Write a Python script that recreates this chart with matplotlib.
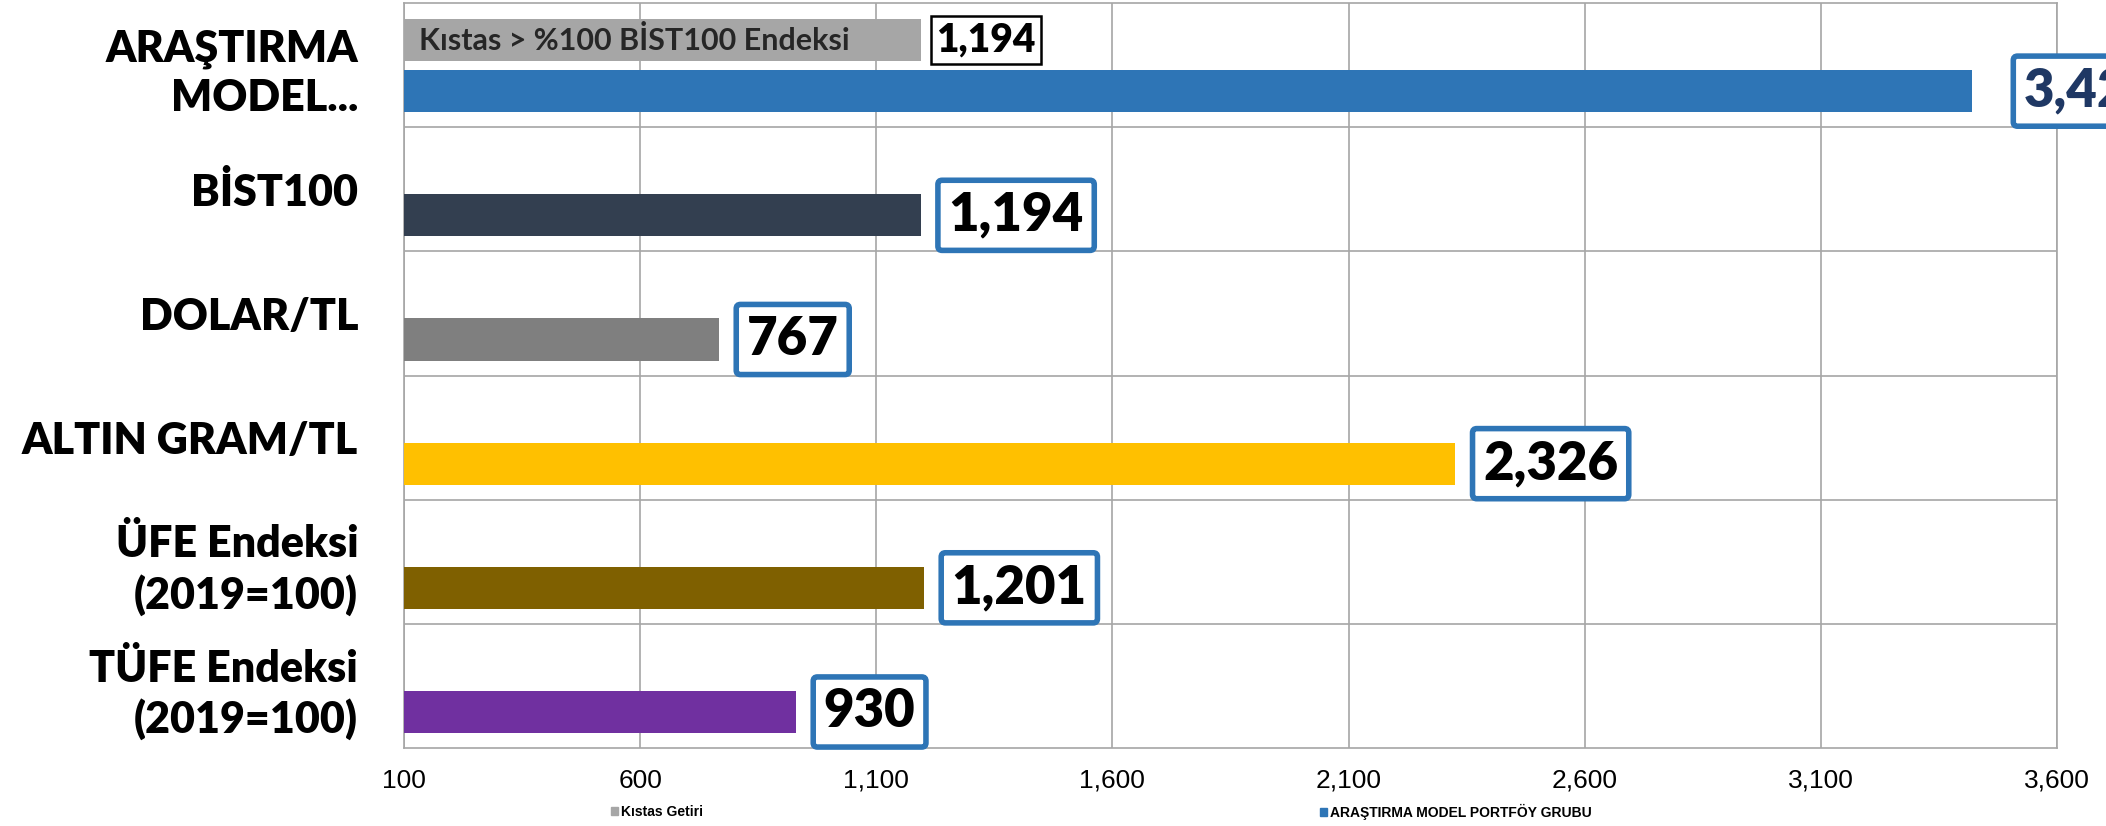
import matplotlib.pyplot as plt
from matplotlib.patches import Patch

# data
categories = ["ARAŞTIRMA\nMODEL...", "BİST100", "DOLAR/TL", "ALTIN GRAM/TL",
              "ÜFE Endeksi\n(2019=100)", "TÜFE Endeksi\n(2019=100)"]
model_values = [3421, 1194, 767, 2326, 1201, 930]
model_colors = ["#2e75b6", "#333f50", "#7f7f7f", "#ffc000", "#7f6000", "#7030a0"]
benchmark_values = [1194]
benchmark_note = "Kıstas > %100 BİST100 Endeksi"
x_ticks = [100, 600, 1100, 1600, 2100, 2600, 3100, 3600]
legend_labels = ["Kıstas Getiri", "ARAŞTIRMA MODEL PORTFÖY GRUBU"]

gray = "#a6a6a6"
blue = "#2e75b6"
grid_c = "#a6a6a6"
plain_font = ["Liberation Sans", "DejaVu Sans"]
bold_font = ["Lato", "DejaVu Sans"]

fig = plt.figure(figsize=(21.06, 8.26), dpi=100)
ax = fig.add_axes([404 / 2106, 1 - 748 / 826, 1653 / 2106, 745 / 826])

y_model = [i + 0.21 for i in range(len(categories))]
y_bench = [i - 0.2 for i in range(len(benchmark_values))]

ax.barh(y_bench, benchmark_values, height=0.34, color=gray, zorder=3)
ax.barh(y_model, model_values, height=0.34, color=model_colors, zorder=3)

ax.set_xlim(100, 3600)
ax.set_ylim(len(categories) - 0.5, -0.5)
ax.set_xticks(x_ticks)
ax.set_xticklabels([f"{t:,}" for t in x_ticks], fontsize=19, family=plain_font)
ax.set_yticks(range(len(categories)))
ax.set_yticklabels(categories, fontsize=31, fontweight="heavy", family=bold_font,
                   ha="right", linespacing=1.28)
ax.set_yticks([i + 0.5 for i in range(len(categories) - 1)], minor=True)
ax.tick_params(axis="y", which="both", length=0, pad=33)
ax.tick_params(axis="x", length=0, pad=15)
ax.grid(axis="x", color=grid_c, linewidth=1.2, zorder=0)
ax.grid(axis="y", which="minor", color=grid_c, linewidth=1.2, zorder=0)
for s in ax.spines.values():
    s.set_color(grid_c)
    s.set_linewidth(1.2)

# benchmark label + note inside the bar
for v, y in zip(benchmark_values, y_bench):
    ax.annotate(f"{v:,}", xy=(v, y), xytext=(11, 0), textcoords="offset points",
                va="center", ha="left", fontsize=28, fontweight="heavy",
                family=bold_font, color="black",
                bbox=dict(boxstyle="square,pad=0.14", fc="white", ec="black", lw=1.8))
    ax.annotate(benchmark_note, xy=(100, y), xytext=(11, 0),
                textcoords="offset points", va="center", ha="left",
                fontsize=22, fontweight="bold", family=bold_font, color="#262626",
                zorder=4)

# model labels
for i, (v, y) in enumerate(zip(model_values, y_model)):
    off = 37 if i == 0 else 20
    tc = "#1f3864" if i == 0 else "black"
    ax.annotate(f"{v:,}", xy=(v, y), xytext=(off, 0), textcoords="offset points",
                va="center", ha="left", fontsize=38, fontweight="heavy",
                family=bold_font, color=tc, zorder=5,
                bbox=dict(boxstyle="round,pad=0.2,rounding_size=0.08",
                          fc="white", ec=blue, lw=4))

# legend
for lab, col, xpos in zip(legend_labels, [gray, blue], [604, 1313]):
    fig.legend(handles=[Patch(color=col)], labels=[lab],
               loc="center left", bbox_to_anchor=(xpos / 2106, 1 - 812 / 826),
               frameon=False, handlelength=0.5, handleheight=0.5, handletextpad=0.2,
               prop={"family": plain_font, "size": 10, "weight": "bold"}, borderpad=0)

fig.savefig("out.png", dpi=100)
